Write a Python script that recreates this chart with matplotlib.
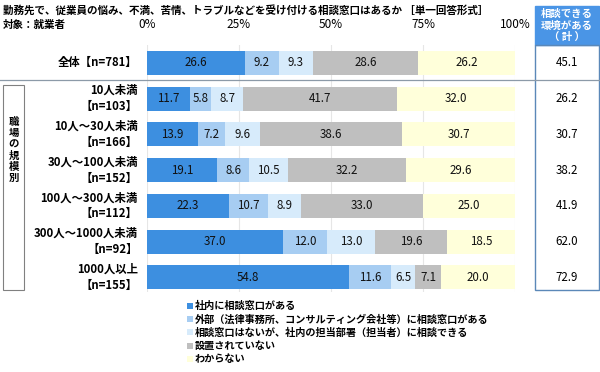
import matplotlib.pyplot as plt
from matplotlib.patches import Rectangle
import numpy as np

plt.rcParams['font.family'] = ['Noto Sans CJK JP', 'DejaVu Sans']

categories = ['全体【n=781】', '10人未満\n【n=103】', '10人～30人未満\n【n=166】',
              '30人～100人未満\n【n=152】', '100人～300人未満\n【n=112】',
              '300人～1000人未満\n【n=92】', '1000人以上\n【n=155】']
inside = [26.6, 11.7, 13.9, 19.1, 22.3, 37.0, 54.8]
outside = [9.2, 5.8, 7.2, 8.6, 10.7, 12.0, 11.6]
dept = [9.3, 8.7, 9.6, 10.5, 8.9, 13.0, 6.5]
none_ = [28.6, 41.7, 38.6, 32.2, 33.0, 19.6, 7.1]
unknown = [26.2, 32.0, 30.7, 29.6, 25.0, 18.5, 20.0]
total = [45.1, 26.2, 30.7, 38.2, 41.9, 62.0, 72.9]

series = [inside, outside, dept, none_, unknown]
series_names = ['社内に相談窓口がある',
                '外部（法律事務所、コンサルティング会社等）に相談窓口がある',
                '相談窓口はないが、社内の担当部署（担当者）に相談できる',
                '設置されていない',
                'わからない']
colors = ['#3d8fe0', '#a7cdf2', '#d7ebfb', '#bfbfbf', '#ffffda']
xticks = [0, 25, 50, 75, 100]

W, H = 600, 372
fig = plt.figure(figsize=(6, 3.72), dpi=100)

def fx(px):
    return px / W

def fy(py):
    return 1 - py / H

ax = fig.add_axes([fx(147), fy(292), fx(515) - fx(147), fy(45) - fy(292)])
y = np.arange(len(categories))
left = np.zeros(len(categories))
for vals, c in zip(series, colors):
    vals = np.array(vals)
    ax.barh(y, vals, left=left, height=0.67, color=c, zorder=2)
    for yi, l, v in zip(y, left, vals):
        ax.text(l + v / 2, yi, f'{v:.1f}', ha='center', va='center',
                fontsize=8.3, color='#111111', zorder=3)
    left += vals

ax.set_xlim(0, 100)
ax.set_ylim(6.41, -0.5)
ax.set_xticks(xticks)
ax.set_xticklabels([f'{t}%' for t in xticks], fontsize=8.5)
ax.xaxis.tick_top()
ax.tick_params(axis='x', length=0, pad=10)
ax.set_yticks([])
ax.grid(axis='x', color='#e6e6e6', linewidth=0.8, zorder=0)
for s in ax.spines.values():
    s.set_visible(False)

# category labels
for yi, cat in zip(y, categories):
    ax.text(-2.5, yi, cat, ha='right', va='center', fontsize=8.2,
            fontweight='bold', linespacing=1.3)

# title
fig.text(fx(3), fy(10), '勤務先で、従業員の悩み、不満、苦情、トラブルなどを受け付ける相談窓口はあるか ［単一回答形式］',
         fontsize=7.6, fontweight='bold', va='center')
fig.text(fx(3), fy(25), '対象：就業者', fontsize=7.6, fontweight='bold', va='center')

# separator line
fig.add_artist(plt.Line2D([fx(0), fx(599)], [fy(80), fy(80)], color='#8c9aa8', linewidth=0.9))

# group box
fig.add_artist(Rectangle((fx(3), fy(290)), fx(21), fy(85) - fy(290), fill=False,
                         edgecolor='#808080', linewidth=0.8))
fig.text(fx(13.5), fy(150), '職\n場\nの\n規\n模\n別', ha='center', va='center',
         fontsize=7.5, fontweight='bold', linespacing=1.15)

# right column
fig.add_artist(Rectangle((fx(535), fy(45)), fx(64), fy(6) - fy(45),
                         facecolor='#4a95e6', edgecolor='#4a95e6'))
fig.text(fx(567), fy(25.5), '相談できる\n環境がある\n（ 計 ）', ha='center', va='center',
         fontsize=7.5, fontweight='bold', color='white', linespacing=1.15)
fig.add_artist(Rectangle((fx(535), fy(290)), fx(64), fy(45) - fy(290), fill=False,
                         edgecolor='#5b88b8', linewidth=1.0))
trans = fig.transFigure.inverted()
for yi, t in zip(y, total):
    disp = ax.transData.transform((0, yi))
    fyv = trans.transform(disp)[1]
    fig.text(fx(567), fyv, f'{t:.1f}', ha='center', va='center', fontsize=8.3)

# legend
for i, (name, c) in enumerate(zip(series_names, colors)):
    py = 306 + i * 13.2
    fig.add_artist(Rectangle((fx(187), fy(py + 3)), fx(6), fy(py - 3) - fy(py + 3),
                             facecolor=c, edgecolor='none'))
    fig.text(fx(195), fy(py), name, fontsize=7.3, fontweight='bold', va='center')

fig.savefig('out.png', dpi=100)
